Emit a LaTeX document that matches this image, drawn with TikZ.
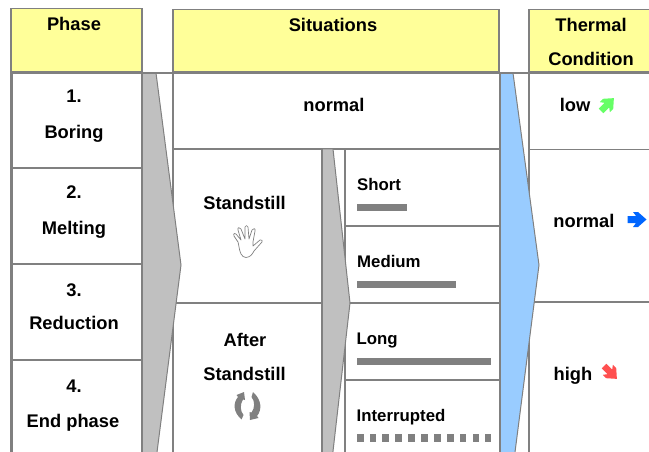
\documentclass[tikz,border=0pt]{standalone}
\usepackage{fontspec}
\setmainfont{Liberation Sans}
\definecolor{ln}{HTML}{808080}
\definecolor{hdr}{HTML}{FFFF99}
\definecolor{gr}{HTML}{C0C0C0}
\definecolor{bl}{HTML}{99CCFF}
\definecolor{grn}{HTML}{66FF66}
\definecolor{blu}{HTML}{0066FF}
\definecolor{rd}{HTML}{FF5050}
\tikzset{
  header/.style={draw=ln,fill=hdr,line width=1.3pt},
  rule/.style={draw=ln,line width=1.3pt},
  heavy/.style={draw=ln,line width=2.6pt},
  flow/.style={draw=ln,line width=1pt},
  big/.style={inner sep=0pt,font=\fontsize{18.3}{20}\selectfont\bfseries,text=black,anchor=base},
  small/.style={inner sep=0pt,font=\fontsize{16.8}{18}\selectfont\bfseries,text=black,anchor=base west},
  bar/.style={fill=ln,draw=none},
  chunky/.pic={\fill[pic actions] (-9.5,-3.5)--(-1,-3.5)--(-4,-7.5)--(1,-7.5)--(9.5,0)--(1,7.5)--(-4,7.5)--(-1,3.5)--(-9.5,3.5)--cycle;}
}
\begin{document}
\begin{tikzpicture}[x=1pt,y=-1pt]
\useasboundingbox (0,0) rectangle (649,452);
\clip (0,0) rectangle (649,452);
% headers
\path[header] (11,8.5) rectangle (142,72);
\path[header] (173,9.5) rectangle (499,72);
\path[header] (529,9.5) rectangle (652,72);
% vertical rules
\path[rule] (173,73) -- (173,460);
\path[rule] (345,149) -- (345,460);
\path[rule] (529,73) -- (529,460);
% horizontal rules
\path[rule] (11,168) -- (142,168);
\path[rule] (11,264) -- (142,264);
\path[rule] (11,360) -- (142,360);
\path[rule] (173,149) -- (499,149);
\path[rule] (173,303) -- (322,303);
\path[rule] (345,226) -- (499,226);
\path[rule] (345,303) -- (499,303);
\path[rule] (345,380) -- (499,380);
\path[rule] (529,149.5) -- (652,149.5);
\path[rule] (529,302) -- (652,302);
% flow arrows
\path[flow,fill=gr] (142,73) -- (156,73) -- (181,265) -- (156,460) -- (142,460) -- cycle;
\path[flow,fill=gr] (322,149) -- (333,149) -- (350,303) -- (332,460) -- (322,460) -- cycle;
\path[flow,fill=bl] (500,73) -- (513,73) -- (539,265) -- (514,460) -- (500,460) -- cycle;
% heavy rules
\path[heavy] (11,73) -- (649,73);
\path[heavy] (11.5,72) -- (11.5,460);
\path[draw=ln,line width=1.6pt] (142,73) -- (142,460);
\path[heavy] (322,149) -- (322,460);
\path[draw=ln,line width=2pt] (500,73) -- (500,460);
% phase texts
\node[big] (phase) at (74,31) {Phase};
\node[big] (n1) at (74,102.7) {1.};
\node[big] (boring) at (74,138.3) {Boring};
\node[big] (n2) at (74,198) {2.};
\node[big] (melting) at (74,234.5) {Melting};
\node[big] (n3) at (74,296) {3.};
\node[big] (reduction) at (74,329.3) {Reduction};
\node[big] (n4) at (74,392.7) {4.};
\node[big] (endphase) at (73,427) {End phase};
% situations
\node[big] (situations) at (333,32) {Situations};
\node[big] (normalS) at (334,112) {normal};
\node[big] (standstill) at (244.5,209) {Standstill};
\node[big] (after) at (245,346) {After};
\node[big] (standstillB) at (244.5,380) {Standstill};
\node[small] (short) at (357,190) {Short};
\node[small] (medium) at (357,267) {Medium};
\node[small] (long) at (356.5,344) {Long};
\node[small] (interrupted) at (356.5,421) {Interrupted};
% bars
\fill[bar] (357,203.5) rectangle (407,211);
\fill[bar] (356.5,281) rectangle (456,288);
\fill[bar] (357,357.5) rectangle (491,365);
\foreach \i in {0,...,9} \fill[bar] ({356.7+12.87*\i},434.3) rectangle ++(6.8,7.2);
\fill[bar] (485.4,434.3) rectangle (490.8,441.5);
% thermal
\node[big] (thermal) at (591,32) {Thermal};
\node[big] (condition) at (591,66) {Condition};
\node[big] (low) at (575,112) {low};
\node[big] (normalT) at (584,227) {normal};
\node[big] (high) at (573,380) {high};
\path[fill=grn] (607.5,104.5) pic[rotate=45,scale=.95] {chunky};
\path[fill=blu] (637,219.5) pic {chunky};
\path[fill=rd] (610.5,372.5) pic[rotate=-45,scale=.95] {chunky};
% hand
\draw[ln,line width=.7pt,line join=round,fill=white]
 (241,254) .. controls (239,250) and (239,245) .. (238,242)
 -- (234,236) .. controls (233,233) and (235,233) .. (236,234)
 -- (241,240) -- (238,230) .. controls (237,227) and (240,227) .. (241,229)
 -- (245,239) -- (245,227) .. controls (245,225) and (248,225) .. (248,227)
 -- (249,239) -- (252,230) .. controls (253,228) and (256,228) .. (255,231)
 -- (253,242) -- (253,246) -- (260,240) .. controls (262,239) and (263,241) .. (262,242)
 -- (254,251) .. controls (252,255) and (250,257) .. (246,257.5)
 .. controls (244,257.5) and (242,256) .. (241,254) -- cycle;
% cycle arrows
\fill[ln] (244,392) -- (245,400) -- (243,399.5)
 .. controls (240,404) and (240,411) .. (243.5,415) -- (241.5,419.5)
 .. controls (233,412) and (233,403) .. (238,397) -- (236.5,395) -- cycle;
\fill[ln] (250,420) -- (249.5,412) -- (251.5,412.5)
 .. controls (255,408) and (255,401) .. (251.5,397) -- (253,392)
 .. controls (262,400) and (262,410) .. (257,416) -- (258.5,418) -- cycle;
\end{tikzpicture}
\end{document}
